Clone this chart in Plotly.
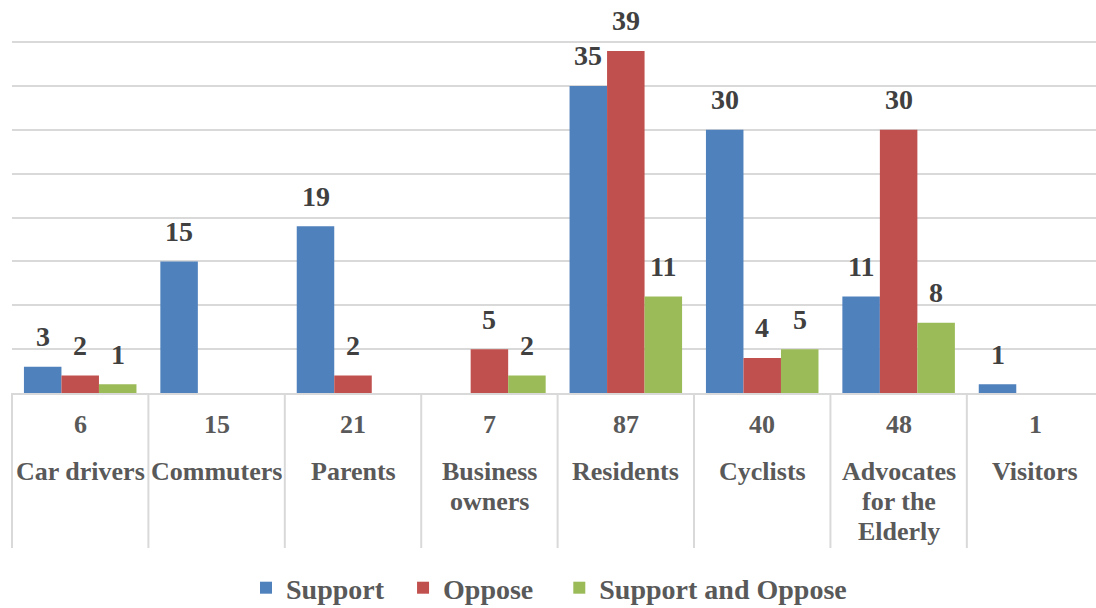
import plotly.graph_objects as go

categories = ["Car drivers", "Commuters", "Parents", "Business<br>owners", "Residents",
              "Cyclists", "Advocates<br>for the<br>Elderly", "Visitors"]
totals = [6, 15, 21, 7, 87, 40, 48, 1]
support = [3, 15, 19, 0, 35, 30, 11, 1]
oppose = [2, 0, 2, 5, 39, 4, 30, 0]
both = [1, 0, 0, 2, 11, 5, 8, 0]

series = [("Support", support, "#4F81BD"),
          ("Oppose", oppose, "#C0504D"),
          ("Support and Oppose", both, "#9BBB59")]

FONT = "Liberation Serif, Times New Roman, DejaVu Serif, serif"
BARGAP = 0.175
XRANGE = [-0.5, 7.447]
PLOT_H = 393
NBSP = "\u00a0"
legend_pad = [2, 3, 0]
xs = list(range(len(categories)))

fig = go.Figure()
for (name, vals, color), pad in zip(series, legend_pad):
    fig.add_trace(go.Bar(x=xs, y=vals, name="<b>" + name + "</b>" + NBSP * pad,
                         marker_color=color, marker_line_width=0))

annotations = []
bw = (1 - BARGAP) / len(series)
for k, (name, vals, color) in enumerate(series):
    off = (k - (len(series) - 1) / 2) * bw
    for i, v in enumerate(vals):
        if v:
            annotations.append(dict(x=i + off, y=v, xref="x", yref="y", text=f"<b>{v}</b>",
                                    showarrow=False, yanchor="middle", yshift=30,
                                    font=dict(family=FONT, size=28, color="#404040")))

for i, (cat, tot) in enumerate(zip(categories, totals)):
    annotations.append(dict(x=i, y=0, xref="x", yref="paper", text=f"<b>{tot}</b>",
                            showarrow=False, yanchor="middle", yshift=-31,
                            font=dict(family=FONT, size=26, color="#595959")))
    for j, line in enumerate(cat.split("<br>")):
        annotations.append(dict(x=i, y=0, xref="x", yref="paper",
                                text="<b>" + line + "</b>", showarrow=False,
                                yanchor="middle", yshift=-78 - 30 * j, align="center",
                                font=dict(family=FONT, size=26, color="#595959")))

shapes = []
span = XRANGE[1] - XRANGE[0]
for i in range(len(categories)):
    xp = (i - 0.5 - XRANGE[0]) / span
    shapes.append(dict(type="line", xref="paper", yref="paper", x0=xp, x1=xp,
                       y0=0, y1=-155 / PLOT_H,
                       line=dict(color="#d9d9d9", width=2)))

fig.update_layout(
    width=1096, height=608,
    margin=dict(l=12, r=0, t=0, b=608 - PLOT_H, autoexpand=False),
    plot_bgcolor="white", paper_bgcolor="white",
    barmode="group", bargap=BARGAP, bargroupgap=0,
    font=dict(family=FONT, size=26, color="#595959"),
    xaxis=dict(range=XRANGE, showticklabels=False, showgrid=False,
               showline=True, linecolor="#d9d9d9", linewidth=2, zeroline=False,
               ticks=""),
    yaxis=dict(range=[0, 44.8], dtick=5, showticklabels=False, showgrid=True,
               gridcolor="#d9d9d9", gridwidth=1.5, zeroline=False, showline=False),
    legend=dict(orientation="h", x=(246 - 12) / 1084, xanchor="left",
                y=(PLOT_H - 588) / PLOT_H, yanchor="middle",
                font=dict(family=FONT, size=28, color="#595959"), itemclick=False,
                traceorder="normal"),
    annotations=annotations,
    shapes=shapes,
)

fig.write_html("out.html")
